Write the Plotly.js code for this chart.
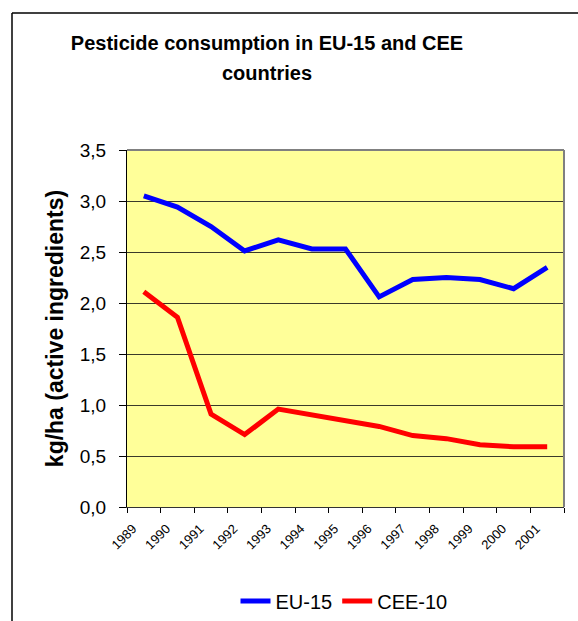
<!DOCTYPE html>
<html><head><meta charset="utf-8">
<script src="https://cdn.plot.ly/plotly-3.0.1.min.js"></script>
<style>html,body{margin:0;padding:0;background:#fff;overflow:hidden}#chart{width:578px;height:621px}</style>
</head><body><div id="chart"></div>
<script>
const years = ['1989','1990','1991','1992','1993','1994','1995','1996','1997','1998','1999','2000','2001'];
const eu15 = [3.05,2.94,2.75,2.51,2.62,2.53,2.53,2.06,2.23,2.25,2.23,2.14,2.35];
const cee10 = [2.11,1.86,0.91,0.71,0.96,0.90,0.84,0.79,0.70,0.67,0.61,0.59,0.59];
const seriesNames = ['EU-15','CEE-10'];
const titleText = 'Pesticide consumption in EU-15 and CEE<br>countries';
const yTitle = 'kg/ha (active ingredients)';

const FONT = 'Liberation Sans, Arial, sans-serif';
const traces = [
  {x: years, y: eu15, name: seriesNames[0], type: 'scatter', mode: 'lines',
   line: {color: '#0000FF', width: 5}},
  {x: years, y: cee10, name: seriesNames[1], type: 'scatter', mode: 'lines',
   line: {color: '#FF0000', width: 5}}
];
const L = 127, R = 564, T = 150, B = 507, W = 578, H = 621;
const px = v => (v - L) / (R - L);
const py = v => (B - v) / (B - T);
const layout = {
  width: W, height: H,
  margin: {l: L, r: W - R, t: T, b: H - B, pad: 0, autoexpand: false},
  paper_bgcolor: '#ffffff',
  plot_bgcolor: '#FFFF99',
  separators: ',.',
  font: {family: FONT, color: '#000'},
  title: {text: '<b><span style="font-size:20px">' + titleText + '</span></b>', font: {family: FONT, size: 23, color: '#000'},
          xref: 'paper', x: px(267), xanchor: 'center',
          yref: 'container', y: 1 - 50 / H, yanchor: 'top'},
  xaxis: {type: 'category', range: [-0.5, years.length - 0.5], tickson: 'boundaries', ticks: 'outside', ticklen: 5,
          tickcolor: '#000', tickwidth: 1, tickangle: -45,
          ticklabelshift: -11, ticklabelstandoff: 8,
          tickfont: {family: FONT, size: 13, color: '#000'},
          showgrid: false, showline: true, linecolor: '#333', linewidth: 1,
          zeroline: false, fixedrange: true, automargin: false},
  yaxis: {range: [0, 3.5], dtick: 0.5, tick0: 0, tickformat: '.1f',
          ticks: 'outside', ticklen: 7, tickcolor: '#000', tickwidth: 1,
          ticklabelstandoff: 9,
          tickfont: {family: FONT, size: 19, color: '#000'},
          showgrid: true, gridcolor: '#3a3a2a', gridwidth: 1,
          showline: true, linecolor: '#000', linewidth: 1, zeroline: false,
          title: {text: '<b>' + yTitle + '</b>', font: {family: FONT, size: 23, color: '#000'}, standoff: 9},
          fixedrange: true, automargin: false},
  showlegend: true,
  legend: {orientation: 'h', x: px(344), xanchor: 'center', y: py(601), yanchor: 'middle',
           font: {family: FONT, size: 20, color: '#000'}, bgcolor: 'rgba(0,0,0,0)', traceorder: 'normal'},
  shapes: [
    {type: 'line', xref: 'paper', yref: 'paper', x0: 0, x1: 1, y0: 1, y1: 1, line: {color: '#808080', width: 2}},
    {type: 'line', xref: 'paper', yref: 'paper', x0: 1, x1: 1, y0: 0, y1: 1, line: {color: '#808080', width: 2}},
    {type: 'line', xref: 'paper', yref: 'paper', x0: px(12), x1: px(12), y0: py(13), y1: py(640), line: {color: '#000', width: 1.5}},
    {type: 'line', xref: 'paper', yref: 'paper', x0: px(12), x1: px(600), y0: py(13), y1: py(13), line: {color: '#000', width: 1.5}}
  ]
};
Plotly.newPlot('chart', traces, layout, {displayModeBar: false, staticPlot: true});
</script></body></html>
